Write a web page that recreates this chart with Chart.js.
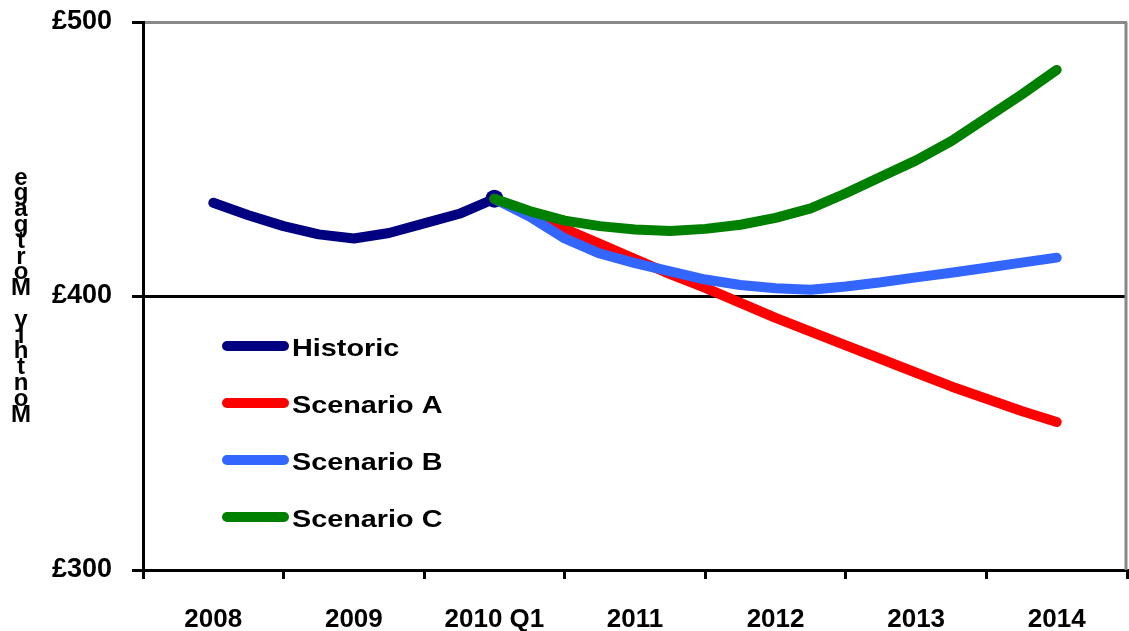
<!DOCTYPE html>
<html>
<head>
<meta charset="utf-8">
<script src="https://cdn.jsdelivr.net/npm/chart.js@4/dist/chart.umd.min.js"></script>
<style>
  html, body { margin: 0; padding: 0; background: #fff; }
  #chart { display: block; }
</style>
</head>
<body>
<canvas id="chart" width="1129" height="631"></canvas>
<script>
// category labels on the x axis
var categories = ['2008', '2009', '2010 Q1', '2011', '2012', '2013', '2014'];

// quarterly positions (0 = 2008, 1 = 2009 ...)
var histQuarters = [0, 0.25, 0.5, 0.75, 1, 1.25, 1.5, 1.75, 2];
var scenQuarters = [2, 2.25, 2.5, 2.75, 3, 3.25, 3.5, 3.75, 4, 4.25, 4.5, 4.75, 5, 5.25, 5.5, 5.75, 6];

// monthly mortgage, £
var historic  = [434, 429.5, 425.5, 422.5, 421, 423, 426.5, 430, 435.5];
var scenarioA = [435.5, 430, 424.5, 419, 413.5, 408, 403, 397.5, 392, 387, 382, 377, 372, 367, 362.5, 358, 354];
var scenarioB = [435.5, 429, 421, 415.5, 412, 409, 406, 404, 402.8, 402.3, 403.5, 405, 406.8, 408.5, 410.3, 412.2, 414];
var scenarioC = [435.5, 431, 427.5, 425.5, 424.3, 423.7, 424.5, 426, 428.5, 432, 437.5, 443.5, 449.5, 456.5, 465, 473.5, 482.5];

var yTicks = [300, 400, 500];
var yTitle = 'Monthly Mortgage';

var FONT = '"Liberation Sans", Arial, sans-serif';

function pts(xs, ys) {
  var out = [];
  for (var i = 0; i < xs.length; i++) out.push({x: xs[i], y: ys[i]});
  return out;
}

function lineSet(label, colour, xs, ys, order) {
  return {
    label: label,
    data: pts(xs, ys),
    xAxisID: 'xq',
    yAxisID: 'y',
    borderColor: colour,
    backgroundColor: colour,
    borderWidth: 10,
    borderCapStyle: 'round',
    borderJoinStyle: 'round',
    tension: 0,
    pointRadius: 0,
    fill: false,
    order: order
  };
}

var hist = lineSet('Historic', '#000080', histQuarters, historic, 4);
// marker on the last historic point
hist.pointRadius = function(ctx) { return ctx.dataIndex === historic.length - 1 ? 9 : 0; };
hist.pointBorderWidth = 0;

var datasets = [
  hist,
  lineSet('Scenario A', '#ff0000', scenQuarters, scenarioA, 3),
  lineSet('Scenario B', '#3366ff', scenQuarters, scenarioB, 2),
  lineSet('Scenario C', '#008000', scenQuarters, scenarioC, 1)
];

// grey frame on the right, legend inside the plot, stacked y title
var extras = {
  id: 'extras',
  beforeDatasetsDraw: function(chart) {
    var a = chart.chartArea, ctx = chart.ctx;
    ctx.save();
    ctx.strokeStyle = '#888888';
    ctx.lineWidth = 3;
    ctx.beginPath();
    ctx.moveTo(a.right - 1, a.top);
    ctx.lineTo(a.right - 1, a.bottom);
    ctx.stroke();
    ctx.restore();
  },
  afterDraw: function(chart) {
    var ctx = chart.ctx;
    ctx.save();
    // legend
    var rows = [347, 404, 461, 518];
    chart.data.datasets.forEach(function(ds, i) {
      ctx.strokeStyle = ds.borderColor;
      ctx.lineWidth = 10;
      ctx.lineCap = 'round';
      ctx.beginPath();
      ctx.moveTo(227, rows[i] - 1);
      ctx.lineTo(284, rows[i] - 1);
      ctx.stroke();
      ctx.save();
      ctx.fillStyle = '#000';
      ctx.font = 'bold 24px ' + FONT;
      ctx.textBaseline = 'middle';
      ctx.textAlign = 'left';
      ctx.translate(292, rows[i] + 2);
      ctx.scale(1.2, 1);
      ctx.fillText(ds.label, 0, 0);
      ctx.restore();
    });
    // y axis title, letters stacked bottom to top
    ctx.fillStyle = '#000';
    ctx.font = 'bold 24px ' + FONT;
    ctx.textAlign = 'center';
    ctx.textBaseline = 'middle';
    for (var k = 0; k < yTitle.length; k++) {
      ctx.fillText(yTitle[k], 21, 415 - k * 15.8);
    }
    ctx.restore();
  }
};

new Chart(document.getElementById('chart'), {
  type: 'line',
  data: { labels: categories, datasets: datasets },
  plugins: [extras],
  options: {
    responsive: false,
    animation: false,
    devicePixelRatio: 1,
    layout: { autoPadding: false, padding: { top: 22, right: 2, left: 0, bottom: 0 } },
    plugins: { legend: { display: false }, tooltip: { enabled: false } },
    scales: {
      x: {
        type: 'category',
        labels: categories,
        offset: true,
        position: 'bottom',
        afterFit: function(s) { s.height = 61; s.paddingLeft = 0; s.paddingRight = 0; },
        grid: {
          offset: true,
          drawOnChartArea: false,
          drawTicks: true,
          tickLength: 9,
          tickWidth: 3,
          tickColor: '#000',
          lineWidth: 3
        },
        border: { display: true, color: '#000', width: 3 },
        ticks: {
          color: '#000',
          font: { family: FONT, size: 26, weight: 'bold' },
          padding: 25,
          maxRotation: 0,
          autoSkip: false
        }
      },
      xq: {
        type: 'linear',
        axis: 'x',
        display: false,
        min: -0.5,
        max: 6.5
      },
      y: {
        type: 'linear',
        min: 300,
        max: 500,
        afterFit: function(s) { s.width = 143; s.paddingTop = 0; s.paddingBottom = 0; },
        afterBuildTicks: function(s) { s.ticks = yTicks.map(function(v) { return {value: v}; }); },
        grid: {
          drawTicks: true,
          tickLength: 11,
          tickWidth: 3,
          tickColor: '#000',
          lineWidth: 3,
          color: function(ctx) {
            if (!ctx.tick) return 'rgba(0,0,0,0)';
            if (ctx.tick.value === 400) return '#000';
            if (ctx.tick.value === 500) return '#888888';
            return 'rgba(0,0,0,0)';
          }
        },
        border: { display: true, color: '#000', width: 3 },
        ticks: {
          color: '#000',
          font: { family: FONT, size: 27, weight: 'bold' },
          padding: 20,
          callback: function(v) { return '£' + v; }
        }
      }
    }
  }
});
</script>
</body>
</html>
